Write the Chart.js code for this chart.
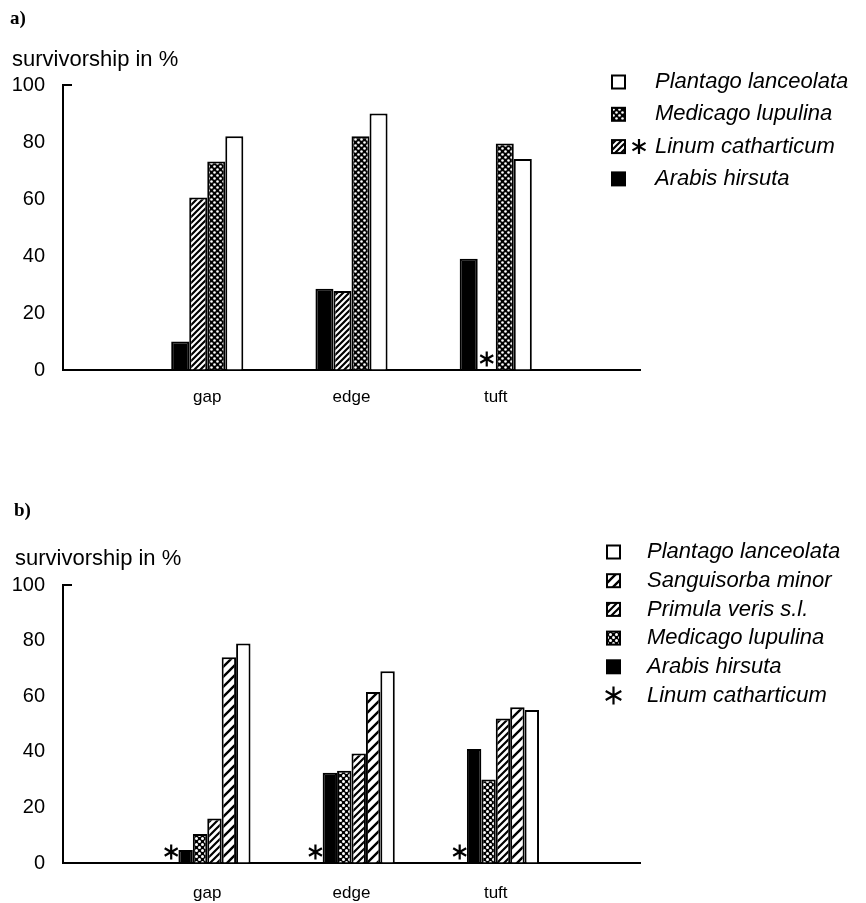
<!DOCTYPE html>
<html>
<head>
<meta charset="utf-8">
<script src="https://cdn.jsdelivr.net/npm/chart.js@4.4.1/dist/chart.umd.min.js"></script>
<style>
  body { margin: 0; background: #fff; width: 866px; height: 903px; position: relative; overflow: hidden;
         font-family: "Liberation Sans", Arial, sans-serif; color: #000; }
  .panel { position: absolute; left: 0; width: 866px; }
  .tag { position: absolute; font-family: "Liberation Serif", "Times New Roman", serif; font-weight: bold; font-size: 19px; }
  .ylab { position: absolute; font-size: 22px; }
</style>
</head>
<body>
<div class="panel" style="top:0;height:410px"><canvas id="chartA"></canvas></div>
<div class="panel" style="top:450px;height:453px"><canvas id="chartB"></canvas></div>
<div class="tag" style="left:10px;top:7px">a)</div>
<div class="ylab" style="left:12px;top:46px">survivorship in %</div>
<div class="tag" style="left:14px;top:499px">b)</div>
<div class="ylab" style="left:15px;top:545px">survivorship in %</div>
<script>
// categories (empty slots at both ends keep the axis running past the groups)
const categories = ['', 'gap', 'edge', 'tuft', ''];
const yTicks = [0, 20, 40, 60, 80, 100];

// a) survivorship in %
const arabisA   = [null, 10, 28.5, 39, null];
const linumA    = [null, 60.5, 27.7, 0, null];
const medicagoA = [null, 73.2, 82, 79.5, null];
const plantagoA = [null, 82, 90, 74, null];

// b) survivorship in %
const linumB       = [null, 0, 0, 0, null];
const arabisB      = [null, 4.7, 32.5, 41, null];
const medicagoB    = [null, 10.4, 33.2, 30, null];
const primulaB     = [null, 16, 39.4, 52, null];
const sanguisorbaB = [null, 74, 61.5, 56, null];
const plantagoB    = [null, 79, 69, 55, null];

Chart.defaults.font.family = '"Liberation Sans", Arial, sans-serif';
Chart.defaults.color = '#000';

function hatch(size, lw) {
  const c = document.createElement('canvas');
  c.width = c.height = size;
  const g = c.getContext('2d');
  g.fillStyle = '#fff';
  g.fillRect(0, 0, size, size);
  g.strokeStyle = '#000';
  g.lineWidth = lw;
  g.beginPath();
  g.moveTo(-1, size + 1); g.lineTo(size + 1, -1);
  g.moveTo(-3, 3); g.lineTo(3, -3);
  g.moveTo(size - 3, size + 3); g.lineTo(size + 3, size - 3);
  g.stroke();
  return g.createPattern(c, 'repeat');
}

// black ground with white dots on a diagonal lattice
function dotted(size, r) {
  const c = document.createElement('canvas');
  c.width = c.height = size;
  const g = c.getContext('2d');
  g.fillStyle = '#000';
  g.fillRect(0, 0, size, size);
  g.fillStyle = '#fff';
  [[size / 4, size / 4], [size * 3 / 4, size * 3 / 4]].forEach(([x, y]) => {
    g.beginPath();
    g.arc(x, y, r, 0, Math.PI * 2);
    g.fill();
  });
  return g.createPattern(c, 'repeat');
}

function drawStar(ctx, x, y, r) {
  ctx.save();
  ctx.strokeStyle = '#000';
  ctx.lineWidth = 2.2;
  ctx.beginPath();
  [90, 30, 150].forEach(a => {
    const dx = Math.cos(a * Math.PI / 180) * r, dy = Math.sin(a * Math.PI / 180) * r;
    ctx.moveTo(x - dx, y - dy);
    ctx.lineTo(x + dx, y + dy);
  });
  ctx.stroke();
  ctx.restore();
}

// asterisk where a starred species has zero survivorship
const zeroStar = {
  id: 'zeroStar',
  afterDatasetsDraw(chart) {
    chart.data.datasets.forEach((ds, i) => {
      if (!ds.starAtZero) return;
      chart.getDatasetMeta(i).data.forEach((bar, j) => {
        if (ds.data[j] === 0) drawStar(chart.ctx, bar.x, bar.y - 11, 7.5);
      });
    });
  }
};

// little tick at the top of the y axis
const topStub = {
  id: 'topStub',
  afterDraw(chart) {
    const y = chart.scales.y.getPixelForValue(100);
    const x = chart.chartArea.left;
    const ctx = chart.ctx;
    ctx.save();
    ctx.strokeStyle = '#000';
    ctx.lineWidth = 2;
    ctx.beginPath();
    ctx.moveTo(x - 1, y);
    ctx.lineTo(x + 9, y);
    ctx.stroke();
    ctx.restore();
  }
};

// legend to the right, drawn from the datasets
const sideLegend = {
  id: 'sideLegend',
  afterDraw(chart, args, opts) {
    const ctx = chart.ctx;
    ctx.save();
    ctx.font = 'italic 22px "Liberation Sans", Arial, sans-serif';
    ctx.textBaseline = 'middle';
    opts.order.forEach((idx, k) => {
      const ds = chart.data.datasets[idx];
      const y = opts.y0 + k * opts.step;
      const s = 13;
      if (ds.legendSwatch !== false) {
        ctx.fillStyle = ds.backgroundColor;
        ctx.fillRect(opts.x, y - s / 2, s, s);
        ctx.strokeStyle = '#000';
        ctx.lineWidth = 2;
        ctx.strokeRect(opts.x, y - s / 2, s, s);
        if (ds.starAtZero) drawStar(ctx, opts.x + 27, y, 7.5);
      } else {
        drawStar(ctx, opts.x + s / 2, y, 9);
      }
      ctx.fillStyle = '#000';
      ctx.fillText(ds.label, opts.textX, y);
    });
    ctx.restore();
  }
};

function makeChart(id, datasets, catPct, top, xPad, legend) {
  return new Chart(document.getElementById(id), {
    type: 'bar',
    data: { labels: categories, datasets: datasets },
    options: {
      responsive: true,
      maintainAspectRatio: false,
      animation: false,
      layout: { padding: { top: top, right: 226, left: 0, bottom: 0 } },
      datasets: { bar: { categoryPercentage: catPct, barPercentage: 1, borderColor: '#000', borderWidth: 2 } },
      plugins: { legend: { display: false }, tooltip: { enabled: false }, sideLegend: legend },
      scales: {
        x: {
          offset: false,
          grid: { drawOnChartArea: false, drawTicks: false },
          border: { color: '#000', width: 2 },
          ticks: { font: { size: 17 }, padding: xPad, autoSkip: false, maxRotation: 0 },
          afterFit: s => { s.height = 40; }
        },
        y: {
          min: 0, max: 100,
          grid: { drawOnChartArea: false, drawTicks: false },
          border: { color: '#000', width: 2 },
          afterBuildTicks: s => { s.ticks = yTicks.map(v => ({ value: v })); },
          ticks: { font: { size: 20 }, padding: 18 },
          afterFit: s => { s.width = 63; }
        }
      }
    },
    plugins: [zeroStar, topStub, sideLegend]
  });
}

makeChart('chartA', [
  { label: 'Arabis hirsuta', data: arabisA, backgroundColor: '#000' },
  { label: 'Linum catharticum', data: linumA, backgroundColor: hatch(6, 2.2), starAtZero: true },
  { label: 'Medicago lupulina', data: medicagoA, backgroundColor: dotted(6, 1.3) },
  { label: 'Plantago lanceolata', data: plantagoA, backgroundColor: '#fff' }
], 0.5, 85, 17, { x: 612, textX: 655, y0: 82, step: 32.3, order: [3, 2, 1, 0] });

makeChart('chartB', [
  { label: 'Linum catharticum', data: linumB, backgroundColor: '#fff', starAtZero: true, legendSwatch: false },
  { label: 'Arabis hirsuta', data: arabisB, backgroundColor: '#000' },
  { label: 'Medicago lupulina', data: medicagoB, backgroundColor: dotted(6, 1.5) },
  { label: 'Primula veris s.l.', data: primulaB, backgroundColor: hatch(7, 2.2) },
  { label: 'Sanguisorba minor', data: sanguisorbaB, backgroundColor: hatch(10, 2.4) },
  { label: 'Plantago lanceolata', data: plantagoB, backgroundColor: '#fff' }
], 0.6, 135, 20, { x: 607, textX: 647, y0: 102, step: 28.7, order: [5, 4, 3, 2, 1, 0] });
</script>
</body>
</html>
